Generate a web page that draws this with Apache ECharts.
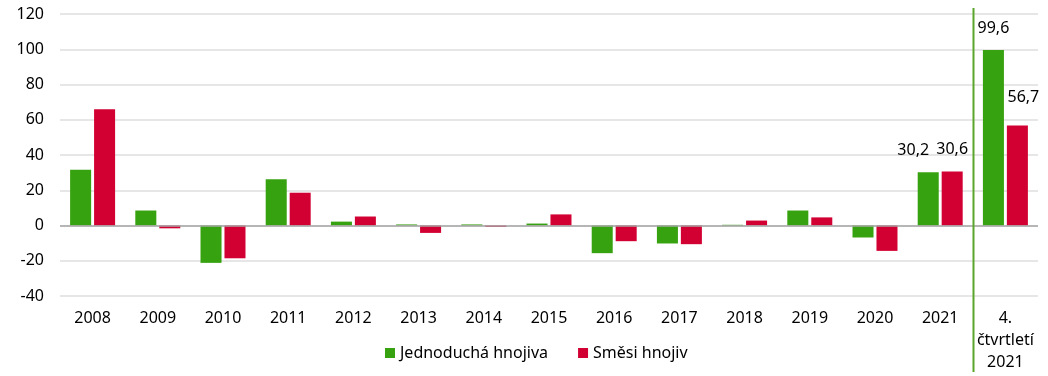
<!DOCTYPE html>
<html>
<head>
<meta charset="utf-8">
<script src="https://cdn.jsdelivr.net/npm/echarts@6/dist/echarts.min.js"></script>
<style>
  html, body { margin: 0; padding: 0; background: #fff; }
  #chart { width: 1048px; height: 376px; }
</style>
</head>
<body>
<div id="chart"></div>
<script>
// kategorie na ose X
const categories = ["2008", "2009", "2010", "2011", "2012", "2013", "2014", "2015",
  "2016", "2017", "2018", "2019", "2020", "2021", "4.\nčtvrtletí\n2021"];
// Jednoduchá hnojiva
const simpleFert = [31.7, 8.5, -21.2, 26.2, 2.2, 0.6, 0.6, 1.1, -15.7, -10.2, 0.4, 8.5, -6.8, 30.2, 99.6];
// Směsi hnojiv
const mixedFert = [66.0, -1.6, -18.6, 18.6, 5.1, -4.2, -0.8, 6.3, -8.9, -10.6, 2.8, 4.6, -14.4, 30.6, 56.7];
// osa Y
const yMin = -40, yMax = 120, yStep = 20;
// popisky jen u posledních dvou období
const labelledIdx = [13, 14];

const GREEN = "#37a20f";
const RED = "#d20032";
const FONT = "Noto Sans";

function withLabels(values, offsets) {
  return values.map((v, i) => {
    const k = labelledIdx.indexOf(i);
    if (k < 0) return v;
    return {
      value: v,
      label: {
        show: true,
        position: "top",
        distance: offsets[k][1],
        offset: [offsets[k][0], 0],
        formatter: (p) => String(p.value).replace(".", ","),
        color: "#000",
        fontFamily: FONT,
        fontSize: 16,
      },
    };
  });
}

const chart = echarts.init(document.getElementById("chart"));
const option = {
  animation: false,
  textStyle: { fontFamily: FONT },
  grid: { left: 60, right: 10, top: 14, bottom: 80 },
  legend: {
    bottom: 10,
    left: 380,
    itemWidth: 10,
    itemHeight: 10,
    itemGap: 30,
    icon: "rect",
    textStyle: { fontFamily: FONT, fontSize: 16, color: "#000" },
    data: ["Jednoduchá hnojiva", "Směsi hnojiv"],
  },
  xAxis: {
    type: "category",
    data: categories,
    axisLine: { show: false },
    axisTick: { show: false },
    axisLabel: {
      color: "#000",
      fontFamily: FONT,
      fontSize: 16,
      margin: 11,
      lineHeight: 22,
      interval: 0,
      verticalAlign: "top",
    },
  },
  yAxis: {
    type: "value",
    min: yMin,
    max: yMax,
    interval: yStep,
    axisLine: { show: false },
    axisTick: { show: false },
    axisLabel: { color: "#000", fontFamily: FONT, fontSize: 16, margin: 16 },
    splitLine: { lineStyle: { color: "#dedede", width: 1.5 } },
  },
  series: [
    {
      name: "Jednoduchá hnojiva",
      type: "bar",
      data: withLabels(simpleFert, [[-15, 14], [0, 14]]),
      itemStyle: { color: GREEN },
      barGap: "14%",
      barCategoryGap: "31%",
      markLine: {
        silent: true,
        symbol: "none",
        label: { show: false },
        lineStyle: { color: "#a6a6a6", type: "solid", width: 1.5 },
        data: [{ yAxis: 0 }],
      },
    },
    {
      name: "Směsi hnojiv",
      type: "bar",
      data: withLabels(mixedFert, [[0, 14], [6, 20]]),
      itemStyle: { color: RED },
      barGap: "14%",
      barCategoryGap: "31%",
    },
  ],
};
chart.setOption(option);

// svislá dělicí čára mezi 2021 a 4. čtvrtletím 2021
const xa = chart.convertToPixel({ xAxisIndex: 0 }, categories[13]);
const xb = chart.convertToPixel({ xAxisIndex: 0 }, categories[14]);
const xs = Math.round((xa + xb) / 2) + 0.5;
chart.setOption({
  graphic: [{
    type: "line",
    shape: { x1: xs, y1: 8, x2: xs, y2: 372 },
    style: { stroke: "#5aa52b", lineWidth: 2 },
    z: 10,
  }],
});
</script>
</body>
</html>
